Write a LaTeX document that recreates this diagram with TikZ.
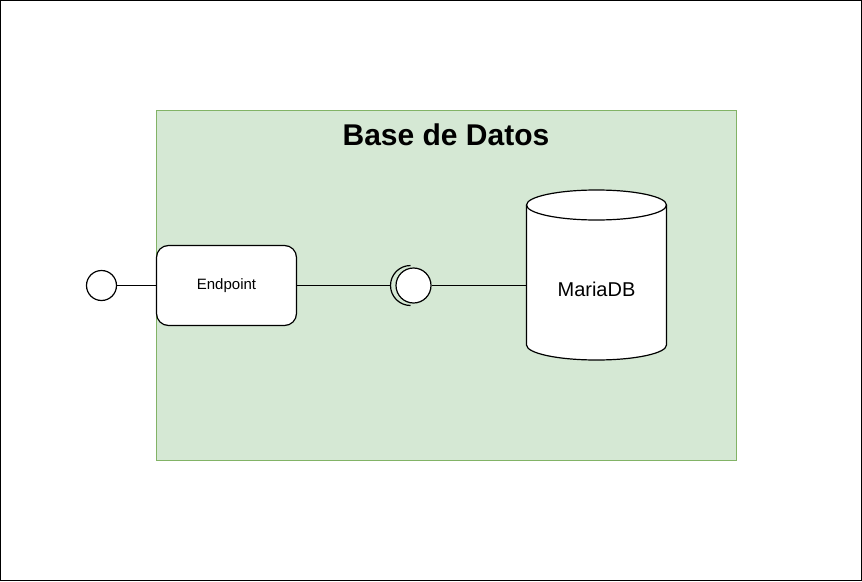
\documentclass[tikz,border=0pt]{standalone}
\usepackage{fontspec}
\setmainfont{Liberation Sans}
\usetikzlibrary{positioning}
\definecolor{grpfill}{HTML}{D5E8D4}
\definecolor{grpline}{HTML}{82B366}

\begin{document}
\begin{tikzpicture}[x=0.75pt,y=-0.75pt,line width=0.9pt,
  comp/.style={draw,rounded corners=9pt,fill=white,minimum width=105pt,minimum height=60pt,font=\fontsize{11.25}{13}\selectfont},
  port/.style={draw,circle,fill=white,minimum size=22.5pt,inner sep=0pt},
  ball/.style={draw,circle,fill=white,minimum size=26.25pt,inner sep=0pt},
  lid/.style={x radius=52.5pt,y radius=11.25pt}]
\useasboundingbox (0,0) rectangle (862,581);
\draw[line width=0.75pt] (0.5,0.5) rectangle (861.5,580.5);
\draw[grpline,fill=grpfill,line width=0.75pt] (156.5,110.5) rectangle (736.5,460.5);
\node[font=\bfseries\fontsize{22.5}{27}\selectfont] (title) at (446,135) {Base de Datos};

\node[comp] (endpoint) at (226.5,285.5) {Endpoint};
\node[port] (api) at (101.5,285.5) {};
\node[ball] (prov) at (413.5,285.5) {};
\coordinate (req) at ([xshift=-17.25pt]prov.center);

% MariaDB cylinder
\draw[fill=white] (526.5,205) -- (526.5,345) arc[start angle=180,end angle=360,lid]
  -- (666.5,205) arc[start angle=0,end angle=180,lid] -- cycle;
\draw (526.5,205) arc[start angle=180,end angle=360,lid];
\coordinate (dbside) at (526.5,285.5);
\node[font=\fontsize{15}{18}\selectfont] (maria) at (596.5,289) {MariaDB};

\draw (api) -- (endpoint);
\draw (endpoint) -- (req);
\draw ([shift={(-3,-20)}]prov.center) arc[start angle=90,end angle=270,radius=15pt];
\draw (prov) -- (dbside);
\end{tikzpicture}
\end{document}
